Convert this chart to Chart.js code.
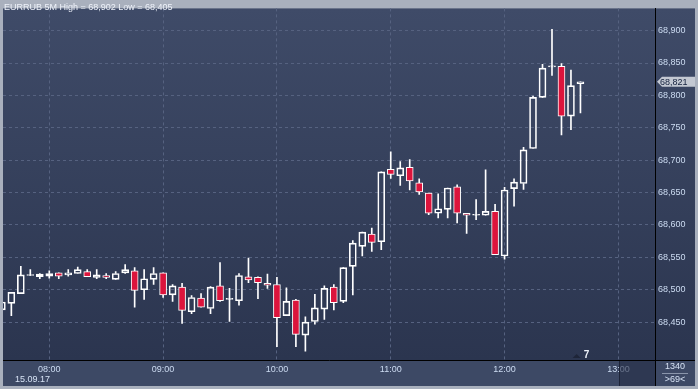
<!DOCTYPE html>
<html lang="ru">
<head>
  <meta charset="UTF-8" />
  <title>EURRUB 5M</title>
  <script src="https://cdn.jsdelivr.net/npm/chart.js"></script>
  <style>
    html, body {
      margin: 0;
      padding: 0;
      background: #a9b0bd;
    }
    #wrap {
      width: 698px;
      height: 389px;
      position: relative;
    }
  </style>
</head>
<body>
  <div id="wrap"><canvas id="grafico"></canvas></div>
  <script>
    const titulo = 'EURRUB 5M High = 68,902 Low = 68,405';
    const fecha = '15.09.17';
    const horas = [
      '07:35', '07:40', '07:45', '07:50', '07:55',
      '08:00', '08:05', '08:10', '08:15', '08:20', '08:25', '08:30', '08:35', '08:40', '08:45', '08:50', '08:55',
      '09:00', '09:05', '09:10', '09:15', '09:20', '09:25', '09:30', '09:35', '09:40', '09:45', '09:50', '09:55',
      '10:00', '10:05', '10:10', '10:15', '10:20', '10:25', '10:30', '10:35', '10:40', '10:45', '10:50', '10:55',
      '11:00', '11:05', '11:10', '11:15', '11:20', '11:25', '11:30', '11:35', '11:40', '11:45', '11:50', '11:55',
      '12:00', '12:05', '12:10', '12:15', '12:20', '12:25', '12:30', '12:35', '12:40'
    ];
    const aperturas = [
      68.469, 68.479, 68.494, 68.522, 68.520,
      68.521, 68.526, 68.523, 68.525, 68.528, 68.519, 68.522, 68.516, 68.526, 68.529, 68.500, 68.516,
      68.526, 68.492, 68.504, 68.466, 68.487, 68.471, 68.506, 68.485, 68.483, 68.520, 68.519, 68.510,
      68.508, 68.460, 68.484, 68.430, 68.451, 68.470, 68.504, 68.482, 68.536, 68.567, 68.586, 68.574,
      68.686, 68.676, 68.689, 68.665, 68.649, 68.618, 68.624, 68.659, 68.618, 68.615, 68.615, 68.621,
      68.552, 68.656, 68.664, 68.718, 68.797, 68.844, 68.845, 68.768, 68.818
    ];
    const maximos = [
      68.481, 68.496, 68.536, 68.531, 68.525,
      68.529, 68.526, 68.531, 68.535, 68.531, 68.531, 68.525, 68.528, 68.539, 68.534, 68.531, 68.534,
      68.526, 68.508, 68.510, 68.491, 68.494, 68.505, 68.542, 68.502, 68.525, 68.549, 68.520, 68.524,
      68.519, 68.503, 68.485, 68.458, 68.493, 68.506, 68.508, 68.534, 68.576, 68.589, 68.595, 68.682,
      68.713, 68.698, 68.701, 68.671, 68.649, 68.648, 68.657, 68.662, 68.618, 68.639, 68.685, 68.632,
      68.658, 68.671, 68.720, 68.799, 68.848, 68.902, 68.849, 68.839, 68.821
    ];
    const minimos = [
      68.466, 68.460, 68.494, 68.522, 68.517,
      68.518, 68.517, 68.521, 68.525, 68.520, 68.517, 68.517, 68.516, 68.525, 68.473, 68.485, 68.508,
      68.488, 68.482, 68.448, 68.463, 68.473, 68.463, 68.482, 68.451, 68.476, 68.511, 68.486, 68.502,
      68.412, 68.460, 68.412, 68.405, 68.447, 68.454, 68.469, 68.480, 68.492, 68.552, 68.559, 68.562,
      68.672, 68.661, 68.654, 68.647, 68.616, 68.611, 68.611, 68.603, 68.587, 68.608, 68.615, 68.554,
      68.547, 68.629, 68.655, 68.718, 68.797, 68.831, 68.739, 68.747, 68.773
    ];
    const cierres = [
      68.481, 68.496, 68.523, 68.522, 68.524,
      68.525, 68.521, 68.526, 68.531, 68.520, 68.523, 68.519, 68.525, 68.531, 68.499, 68.517, 68.525,
      68.492, 68.506, 68.468, 68.488, 68.473, 68.504, 68.483, 68.485, 68.522, 68.515, 68.511, 68.507,
      68.457, 68.482, 68.431, 68.450, 68.472, 68.502, 68.480, 68.534, 68.572, 68.589, 68.573, 68.682,
      68.678, 68.688, 68.668, 68.651, 68.618, 68.625, 68.657, 68.618, 68.615, 68.615, 68.621, 68.554,
      68.654, 68.666, 68.716, 68.797, 68.842, 68.844, 68.768, 68.815, 68.821
    ];
    const ticksY = [68.45, 68.5, 68.55, 68.6, 68.65, 68.7, 68.75, 68.8, 68.85, 68.9];
    const ticksX = ['08:00', '09:00', '10:00', '11:00', '12:00', '13:00'];
    const ultimo = 68.821;
    const marcaTexto = '7';
    const panelArriba = '1340';
    const panelAbajo = '>69<';

    const rojo = '#dc143c';
    const fuente = '"Liberation Sans", Arial, sans-serif';

    function minutos(t) {
      const p = t.split(':');
      return parseInt(p[0]) * 60 + parseInt(p[1]);
    }
    function coma(v) {
      return v.toFixed(3).replace('.', ',');
    }

    const cuerpos = horas.map((t, i) => ({ x: minutos(t), y: [aperturas[i], cierres[i]] }));
    const mechasArriba = horas.map((t, i) => ({ x: minutos(t), y: [Math.max(aperturas[i], cierres[i]), maximos[i]] }));
    const mechasAbajo = horas.map((t, i) => ({ x: minutos(t), y: [minimos[i], Math.min(aperturas[i], cierres[i])] }));

    const fondo = {
      id: 'fondo',
      beforeDraw(chart) {
        const { ctx, chartArea: a, width, height } = chart;
        ctx.save();
        ctx.fillStyle = '#a9b0bd';
        ctx.fillRect(0, 0, width, height);
        const g = ctx.createLinearGradient(0, a.top, 0, a.bottom);
        g.addColorStop(0, '#3f4b68');
        g.addColorStop(1, '#2b354f');
        ctx.fillStyle = g;
        ctx.fillRect(a.left, a.top, width - 3 - a.left, a.bottom - a.top);
        ctx.fillStyle = '#3d4965';
        ctx.fillRect(a.left, a.bottom, width - 3 - a.left, height - 3 - a.bottom);
        ctx.restore();
      },
      afterDraw(chart) {
        const { ctx, chartArea: a, width, height, scales } = chart;
        ctx.save();
        // zona oscura abajo a la derecha
        ctx.fillStyle = 'rgba(36,45,70,0.6)';
        ctx.fillRect(a.right - 35, a.bottom + 1, 35, height - 4 - a.bottom);
        ctx.fillStyle = '#1d2438';
        ctx.fillRect(a.right - 36, a.bottom + 1, 1, height - 4 - a.bottom);
        // lineas negras de separacion
        ctx.fillStyle = '#000';
        ctx.fillRect(a.right, a.bottom, 1, height - 3 - a.bottom);
        ctx.fillRect(a.right, a.bottom, width - 3 - a.right, 1);

        ctx.font = '9px ' + fuente;
        ctx.textBaseline = 'middle';
        // titulo
        ctx.fillStyle = '#eef2fa';
        ctx.textAlign = 'left';
        ctx.fillText(titulo, 4, 8);
        // fecha
        ctx.fillStyle = '#d6e2f4';
        ctx.fillText(fecha, 15, 380);
        // panel derecho inferior
        ctx.textAlign = 'center';
        const cx = (a.right + width - 3) / 2;
        ctx.fillText(panelArriba, cx, 367);
        ctx.fillText(panelAbajo, cx, 380);
        ctx.fillStyle = '#8a95ab';
        ctx.fillRect(cx - 13, 373, 26, 1);
        // marca
        const mx = scales.x.getPixelForValue(minutos('12:38'));
        ctx.fillStyle = '#1e2538';
        ctx.beginPath();
        ctx.moveTo(mx - 4, a.bottom - 2);
        ctx.lineTo(mx + 4, a.bottom - 2);
        ctx.lineTo(mx, a.bottom - 6);
        ctx.closePath();
        ctx.fill();
        ctx.fillStyle = '#eef2fa';
        ctx.font = 'bold 10px ' + fuente;
        ctx.textAlign = 'left';
        ctx.fillText(marcaTexto, mx + 7, a.bottom - 5);
        // etiqueta del ultimo precio
        const py = scales.y.getPixelForValue(ultimo);
        ctx.fillStyle = '#c3c8d2';
        ctx.beginPath();
        ctx.moveTo(a.right + 2, py);
        ctx.lineTo(a.right + 7, py - 5);
        ctx.lineTo(width - 3, py - 5);
        ctx.lineTo(width - 3, py + 5);
        ctx.lineTo(a.right + 7, py + 5);
        ctx.closePath();
        ctx.fill();
        ctx.fillStyle = '#13203c';
        ctx.font = '9px ' + fuente;
        ctx.fillText(coma(ultimo), a.right + 5, py + 0.5);
        ctx.restore();
      }
    };

    new Chart(document.getElementById('grafico'), {
      type: 'bar',
      data: {
        datasets: [
          {
            data: cuerpos,
            backgroundColor: ctx => {
              const i = ctx.dataIndex;
              return cierres[i] < aperturas[i] ? rojo : 'rgba(0,0,0,0)';
            },
            borderColor: '#ffffff',
            borderWidth: 1,
            borderSkipped: false,
            barThickness: 7,
            minBarLength: 1,
            grouped: false,
            order: 0
          },
          {
            data: mechasArriba,
            backgroundColor: '#ffffff',
            borderWidth: 0,
            barThickness: 1,
            grouped: false,
            order: 1
          },
          {
            data: mechasAbajo,
            backgroundColor: '#ffffff',
            borderWidth: 0,
            barThickness: 1,
            grouped: false,
            order: 1
          }
        ]
      },
      options: {
        responsive: true,
        maintainAspectRatio: false,
        animation: false,
        layout: { padding: { left: 3, top: 3, right: 3, bottom: 3 } },
        plugins: {
          legend: { display: false },
          tooltip: { enabled: false }
        },
        scales: {
          x: {
            type: 'linear',
            offset: false,
            min: 455.6,
            max: 799.3,
            afterBuildTicks: s => { s.ticks = ticksX.map(t => ({ value: minutos(t) })); },
            afterFit: s => { s.height = 26; },
            ticks: {
              callback: (v, i) => ticksX[i],
              autoSkip: false,
              maxRotation: 0,
              color: '#cddcf2',
              font: { family: fuente, size: 9 },
              padding: 4
            },
            grid: { color: '#566280', drawTicks: false, offset: false },
            border: { color: '#000000', width: 1, dash: [3, 3] }
          },
          y: {
            position: 'right',
            min: 68.3915,
            max: 68.9343,
            afterBuildTicks: s => { s.ticks = ticksY.map(v => ({ value: v })); },
            afterFit: s => { s.width = 40; },
            ticks: {
              callback: v => coma(v),
              color: '#cddcf2',
              font: { family: fuente, size: 9 },
              crossAlign: 'near',
              padding: 3
            },
            grid: { color: '#566280', drawTicks: false },
            border: { color: '#000000', width: 1, dash: [3, 3] }
          }
        }
      },
      plugins: [fondo]
    });
  </script>
</body>
</html>
